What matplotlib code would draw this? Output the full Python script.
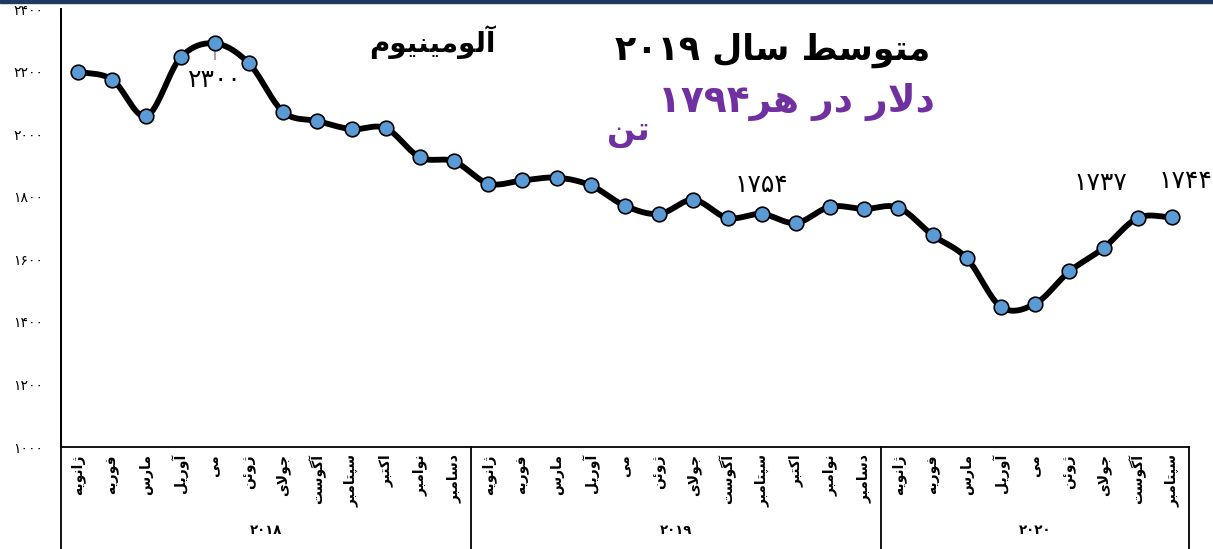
import numpy as np
import matplotlib
matplotlib.use("Agg")
import matplotlib.pyplot as plt
from matplotlib.transforms import blended_transform_factory
from matplotlib.patches import Rectangle

# ---------------- data ----------------
months = ['ژانویه', 'فوریه', 'مارس', 'آوریل', 'می', 'ژوئن', 'جولای',
          'آگوست', 'سپتامبر', 'اکتبر', 'نوامبر', 'دسامبر']
years = ['۲۰۱۸', '۲۰۱۹', '۲۰۲۰']
months_per_year = [12, 12, 9]
prices = [2200, 2174, 2058, 2245, 2290, 2226, 2071, 2042, 2016, 2019, 1926, 1913,
          1842, 1852, 1861, 1836, 1771, 1745, 1790, 1732, 1745, 1716, 1768, 1761,
          1765, 1677, 1603, 1448, 1458, 1561, 1636, 1732, 1735]
yticks = [1000, 1200, 1400, 1600, 1800, 2000, 2200, 2400]
annotation_text = ['۲۳۰۰', '۱۷۵۴', '۱۷۳۷', '۱۷۴۴']
annotation_idx = [4, 20, 29.9, 32.4]
annotation_val = [2172, 1838, 1845, 1850]

# ---------------- minimal Arabic/Persian shaping ----------------
FORMS = {
    '\u0622': ('\uFE81', '\uFE82', None, None),
    '\u0627': ('\uFE8D', '\uFE8E', None, None),
    '\u0626': ('\uFE89', '\uFE8A', '\uFE8B', '\uFE8C'),
    '\u0628': ('\uFE8F', '\uFE90', '\uFE91', '\uFE92'),
    '\u067E': ('\uFB56', '\uFB57', '\uFB58', '\uFB59'),
    '\u062A': ('\uFE95', '\uFE96', '\uFE97', '\uFE98'),
    '\u062C': ('\uFE9D', '\uFE9E', '\uFE9F', '\uFEA0'),
    '\u062F': ('\uFEA9', '\uFEAA', None, None),
    '\u0631': ('\uFEAD', '\uFEAE', None, None),
    '\u0698': ('\uFB8A', '\uFB8B', None, None),
    '\u0633': ('\uFEB1', '\uFEB2', '\uFEB3', '\uFEB4'),
    '\u0637': ('\uFEC1', '\uFEC2', '\uFEC3', '\uFEC4'),
    '\u0641': ('\uFED1', '\uFED2', '\uFED3', '\uFED4'),
    '\u06A9': ('\uFB8E', '\uFB8F', '\uFB90', '\uFB91'),
    '\u06AF': ('\uFB92', '\uFB93', '\uFB94', '\uFB95'),
    '\u0644': ('\uFEDD', '\uFEDE', '\uFEDF', '\uFEE0'),
    '\u0645': ('\uFEE1', '\uFEE2', '\uFEE3', '\uFEE4'),
    '\u0646': ('\uFEE5', '\uFEE6', '\uFEE7', '\uFEE8'),
    '\u0647': ('\uFEE9', '\uFEEA', '\uFEEB', '\uFEEC'),
    '\u0648': ('\uFEED', '\uFEEE', None, None),
    '\u06CC': ('\uFBFC', '\uFBFD', '\uFBFE', '\uFBFF'),
}
LAMALEF = {'\u0627': ('\uFEFB', '\uFEFC'), '\u0622': ('\uFEF5', '\uFEF6')}


def dual(c):
    return c in FORMS and FORMS[c][2] is not None


def shape(text):
    out = []
    i = 0
    n = len(text)
    while i < n:
        c = text[i]
        if c not in FORMS:
            out.append(c)
            i += 1
            continue
        prev = text[i - 1] if i > 0 else ''
        jp = dual(prev)
        if c == '\u0644' and i + 1 < n and text[i + 1] in LAMALEF:
            iso, fin = LAMALEF[text[i + 1]]
            out.append(fin if jp else iso)
            i += 2
            continue
        nxt = text[i + 1] if i + 1 < n else ''
        jn = dual(c) and nxt in FORMS
        iso, fin, ini, med = FORMS[c]
        if jp and jn:
            out.append(med)
        elif jp:
            out.append(fin)
        elif jn:
            out.append(ini)
        else:
            out.append(iso)
        i += 1
    return ''.join(out)


def visual(text):
    r = shape(text)[::-1]
    res = []
    run = ''
    for ch in r:
        if ch.isdigit():
            run += ch
        else:
            if run:
                res.append(run[::-1])
                run = ''
            res.append(ch)
    if run:
        res.append(run[::-1])
    return ''.join(res)


def catmull(xs, ys, steps=20):
    xs = np.asarray(xs, float)
    ys = np.asarray(ys, float)
    px = np.concatenate([[2 * xs[0] - xs[1]], xs, [2 * xs[-1] - xs[-2]]])
    py = np.concatenate([[2 * ys[0] - ys[1]], ys, [2 * ys[-1] - ys[-2]]])
    cx, cy = [], []
    t = np.linspace(0, 1, steps, endpoint=False)
    for k in range(1, len(px) - 2):
        for arr, pp in ((cx, px), (cy, py)):
            a, b, c_, d = pp[k - 1:k + 3]
            arr.extend(0.5 * ((2 * b) + (-a + c_) * t + (2 * a - 5 * b + 4 * c_ - d) * t ** 2
                              + (-a + 3 * b - 3 * c_ + d) * t ** 3))
    cx.append(xs[-1])
    cy.append(ys[-1])
    return np.array(cx), np.array(cy)


# ---------------- figure ----------------
plt.rcParams['font.family'] = ['DejaVu Sans']
W, H = 1213, 549
fig = plt.figure(figsize=(W / 100, H / 100), dpi=100)
L, R, B, T = 61, 1189, 447, 9
ax = fig.add_axes([L / W, 1 - B / H, (R - L) / W, (B - T) / H])

labels = []
for y, cnt in zip(years, months_per_year):
    labels += months[:cnt]
x = np.arange(len(prices))

sx, sy = catmull(x, prices)
ax.plot(sx, sy, color='black', lw=4.2, solid_capstyle='round', zorder=2)
ax.plot(x, prices, 'o', ms=10.5, mfc='#5B9BD5', mec='black', mew=1.2, zorder=3)

ax.set_xlim(-0.5, len(prices) - 0.5)
ax.set_ylim(1000, 2400)
ax.set_yticks(yticks)
pers = str.maketrans('0123456789', '۰۱۲۳۴۵۶۷۸۹')
ax.set_yticklabels([str(v).translate(pers) for v in yticks], fontsize=10)
ax.tick_params(axis='y', length=0, pad=13)
ax.set_xticks([])
for s in ['top', 'right']:
    ax.spines[s].set_visible(False)
ax.spines['left'].set_linewidth(1.3)
ax.spines['bottom'].set_linewidth(1.3)

tr = blended_transform_factory(ax.transData, ax.transAxes)
ybot = -(H - B) / (B - T) - 0.01
for i, lab in enumerate(labels):
    ax.text(i, -0.016, visual(lab), rotation=90, ha='center', va='top', fontsize=10,
            fontweight='bold', transform=tr)
start = 0
bounds = [-0.5]
for y, cnt in zip(years, months_per_year):
    ax.text(start + (cnt - 1) / 2, -0.19, y, ha='center', va='center', fontsize=9.5,
            fontweight='bold', transform=tr)
    start += cnt
    bounds.append(start - 0.5)
for b in bounds:
    ax.plot([b, b], [0, ybot], color='black', lw=1.3, transform=tr, clip_on=False)
ax.plot([-0.5, -0.5], [1.0, 0], color='black', lw=1.3, transform=tr, clip_on=False)

# annotations
ax.plot([4, 4], [prices[4], prices[4] - 50], color='#A6A6A6', lw=1.5, zorder=2.5)
for xi, txt, yv in zip(annotation_idx, annotation_text, annotation_val):
    ax.text(xi, yv, txt, ha='center', va='center', fontsize=18)

# titles
fig.text(432 / W, 1 - 42 / H, visual('آلومینیوم'), ha='center', va='center',
         fontsize=20, fontweight='bold')
fig.text(930 / W, 1 - 50 / H, visual('متوسط سال ۲۰۱۹'), ha='right', va='center',
         fontsize=25, fontweight='bold')
fig.text(935 / W, 1 - 102 / H, '۱۷۹۴' + visual('دلار در هر'), ha='right', va='center',
         fontsize=27, fontweight='bold', color='#7030A0')
fig.text(628 / W, 1 - 131 / H, visual('تن'), ha='center', va='center',
         fontsize=24, fontweight='bold', color='#7030A0')

fig.patches.append(Rectangle((0, 1 - 2.5 / H), 1, 2.5 / H, transform=fig.transFigure,
                             color='#1F3864', zorder=10))

fig.savefig('out.png', dpi=100)
